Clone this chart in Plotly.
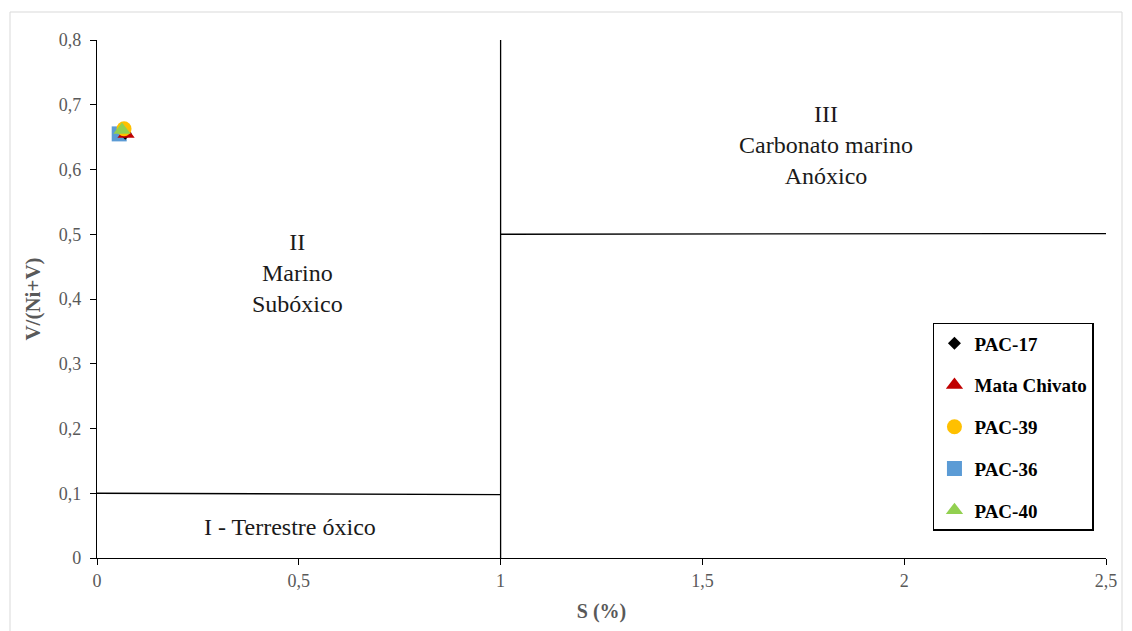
import plotly.graph_objects as go

series_names = ["PAC-17", "Mata Chivato", "PAC-39", "PAC-36", "PAC-40"]
s_values = [0.07, 0.072, 0.067, 0.055, 0.062]
v_values = [0.656, 0.655, 0.663, 0.655, 0.661]
symbols = ["diamond", "triangle-up", "circle", "square", "triangle-up"]
colors = ["#000000", "#C00000", "#FFC000", "#5B9BD5", "#92D050"]

x_ticks = [0, 0.5, 1, 1.5, 2, 2.5]
x_tick_labels = ["0", "0,5", "1", "1,5", "2", "2,5"]
y_ticks = [0, 0.1, 0.2, 0.3, 0.4, 0.5, 0.6, 0.7, 0.8]
y_tick_labels = ["0", "0,1", "0,2", "0,3", "0,4", "0,5", "0,6", "0,7", "0,8"]

# Boundary lines of the diagram
boundary_x = [[1, 1], [0, 1], [1, 2.5]]
boundary_y = [[0, 0.8], [0.1, 0.098], [0.5, 0.501]]

# Region labels
region_x = [0.498, 1.806, 0.478]
region_y = [0.44, 0.638, 0.048]
region_text = ["II<br>Marino<br>Subóxico", "III<br>Carbonato marino<br>Anóxico", "I - Terrestre óxico"]

FONT = "Liberation Serif"

fig = go.Figure()
for bx, by in zip(boundary_x, boundary_y):
    fig.add_trace(go.Scatter(x=bx, y=by, mode="lines", line=dict(color="#000000", width=1.3),
                             showlegend=False, hoverinfo="skip"))

draw_seq = [3, 0, 1, 2, 4]
for i in draw_seq:
    fig.add_trace(go.Scatter(
        x=[s_values[i]], y=[v_values[i]], mode="markers", name=series_names[i],
        legendgroup=series_names[i], legendrank=i + 1,
        marker=dict(symbol=symbols[i], color=colors[i], size=15 if symbols[i] != "diamond" else 10,
                    line=dict(width=0)),
    ))

for tx, ty, tt in zip(region_x, region_y, region_text):
    fig.add_annotation(x=tx, y=ty, text=tt, showarrow=False,
                       font=dict(family=FONT, size=24, color="#1a1a1a"))

fig.update_layout(
    width=1132, height=631,
    margin=dict(l=97, r=26, t=40, b=73),
    paper_bgcolor="white", plot_bgcolor="white",
    font=dict(family=FONT),
    legend=dict(
        x=0.8285, y=0.4537, xanchor="left", yanchor="top",
        bordercolor="#000000", borderwidth=1.5, bgcolor="white",
        font=dict(family=FONT, size=19, color="#000000", weight="bold"),
        tracegroupgap=14, traceorder="grouped",
        itemwidth=30,
    ),
    xaxis=dict(
        range=[0, 2.5], tickvals=x_ticks, ticktext=x_tick_labels,
        showgrid=False, zeroline=False, showline=True, linecolor="#000000", linewidth=1.3,
        ticks="outside", ticklen=6, tickcolor="#000000",
        tickfont=dict(family=FONT, size=18, color="#595959"),
        title=dict(text="<b>S (%)</b>", font=dict(family=FONT, size=20, color="#595959"), standoff=14),
    ),
    yaxis=dict(
        range=[0, 0.8], tickvals=y_ticks, ticktext=y_tick_labels,
        showgrid=False, zeroline=False, showline=True, linecolor="#000000", linewidth=1.3,
        ticks="outside", ticklen=6, tickcolor="#000000", ticklabelstandoff=5,
        tickfont=dict(family=FONT, size=18, color="#595959"),
        title=dict(text="<b>V/(Ni+V)</b>", font=dict(family=FONT, size=21, color="#595959"), standoff=12),
    ),
    shapes=[dict(type="rect", xref="paper", yref="paper",
                 x0=(10 - 97) / 1009, x1=(1122 - 97) / 1009,
                 y0=(558 - 640) / 518, y1=(558 - 12) / 518,
                 line=dict(color="#d9d9d9", width=1), layer="below")],
)

fig.write_html("out.html")
